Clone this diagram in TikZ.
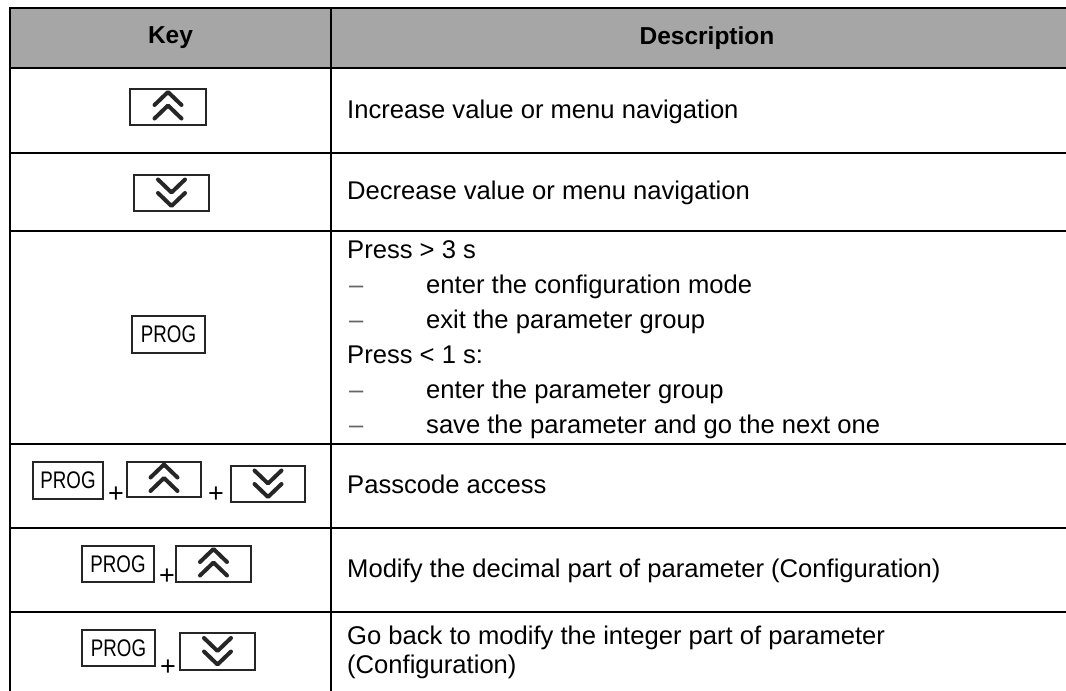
\documentclass[tikz,border=0pt]{standalone}
\usepackage{fontspec}
\usepackage{graphicx}
\setmainfont{Liberation Sans}
\definecolor{hdrgray}{HTML}{A6A6A6}
\definecolor{keyline}{HTML}{262626}
\newcommand\kprogtext{\scalebox{0.78}[1]{\fontsize{24}{24}\selectfont PROG}}
\newcommand\kchevup[1]{%
  \draw[chev] ([shift={(-13.5,-2)}]#1.center) -- ([shift={(0,-15)}]#1.center) -- ([shift={(13.5,-2)}]#1.center);
  \draw[chev] ([shift={(-13.5,11.5)}]#1.center) -- ([shift={(0,-1.5)}]#1.center) -- ([shift={(13.5,11.5)}]#1.center);}
\newcommand\kchevdown[1]{%
  \draw[chev] ([shift={(-13.5,-13.5)}]#1.center) -- ([shift={(0,-0.5)}]#1.center) -- ([shift={(13.5,-13.5)}]#1.center);
  \draw[chev] ([shift={(-13.5,0)}]#1.center) -- ([shift={(0,13)}]#1.center) -- ([shift={(13.5,0)}]#1.center);}
\tikzset{
  gridline/.style={line width=2.6pt, black},
  keybox/.style={draw=keyline, line width=1.8pt, fill=white, inner sep=0pt, minimum width=75pt, minimum height=36pt},
  chev/.style={line width=4pt, line cap=round, line join=round, keyline},
  desc/.style={anchor=base west, inner sep=0pt, font=\fontsize{25.6}{29}\selectfont},
  dashmark/.style={anchor=base west, inner sep=0pt, text=black!60, font=\fontsize{25.6}{29}\selectfont},
  hdr/.style={inner sep=0pt, font=\fontsize{24.5}{28}\selectfont\bfseries},
  plus/.style={inner sep=0pt, font=\fontsize{27}{27}\selectfont},
}
\begin{document}
\begin{tikzpicture}[x=1pt,y=-1pt]
\useasboundingbox (0,0) rectangle (1066,691);
\clip (0,0) rectangle (1066,691);
\fill[white] (0,0) rectangle (1066,691);
% header
\fill[hdrgray] (10,8) rectangle (1100,68);
\draw[gridline] (1100,8) -- (10,8) -- (10,700);
\foreach \yy in {68,153,231,444,528,612} \draw[gridline] (10,\yy) -- (1100,\yy);
\draw[gridline] (331,8) -- (331,700);
\node[hdr] (hkey) at (170.5,38) {Key};
\node[hdr] (hdesc) at (707,38) {Description};
% row 1
\node[keybox, minimum width=76pt] (k1) at (168,107) {};
\kchevup{k1}
\node[desc] (d1) at (347,118) {Increase value or menu navigation};
% row 2
\node[keybox] (k2) at (171.5,193) {};
\kchevdown{k2}
\node[desc] (d2) at (347,199) {Decrease value or menu navigation};
% row 3
\node[keybox, minimum width=73pt, minimum height=37pt] (k3) at (168.5,334.5) {\kprogtext};
\node[desc] (d3a) at (347,258) {Press > 3 s};
\node[dashmark] (m3b) at (349,293) {–};
\node[desc] (d3b) at (426,293) {enter the configuration mode};
\node[dashmark] (m3c) at (349,328) {–};
\node[desc] (d3c) at (426,328) {exit the parameter group};
\node[desc] (d3d) at (347,363) {Press < 1 s:};
\node[dashmark] (m3e) at (349,398) {–};
\node[desc] (d3e) at (426,398) {enter the parameter group};
\node[dashmark] (m3f) at (349,433) {–};
\node[desc] (d3f) at (426,433) {save the parameter and go the next one};
% row 4
\node[keybox, minimum width=70pt, minimum height=37pt] (k4p) at (68,480.5) {\kprogtext};
\node[plus] (k4s1) at (116,495) {+};
\node[keybox, minimum width=74pt, minimum height=35pt] (k4u) at (164,479.5) {};
\kchevup{k4u}
\node[plus] (k4s2) at (216,495) {+};
\node[keybox, minimum width=74pt] (k4d) at (268,484) {};
\kchevdown{k4d}
\node[desc] (d4) at (347,493) {Passcode access};
% row 5
\node[keybox, minimum width=72pt] (k5p) at (118,564) {\kprogtext};
\node[plus] (k5s) at (167,577) {+};
\node[keybox] (k5u) at (213.5,564) {};
\kchevup{k5u}
\node[desc] (d5) at (347,577) {Modify the decimal part of parameter (Configuration)};
% row 6
\node[keybox, minimum width=73pt] (k6p) at (118.5,648) {\kprogtext};
\node[plus] (k6s) at (168,668) {+};
\node[keybox, minimum height=37pt] (k6d) at (217.5,651.5) {};
\kchevdown{k6d}
\node[desc] (d6a) at (347,644) {Go back to modify the integer part of parameter};
\node[desc] (d6b) at (347,673) {(Configuration)};
\end{tikzpicture}
\end{document}
